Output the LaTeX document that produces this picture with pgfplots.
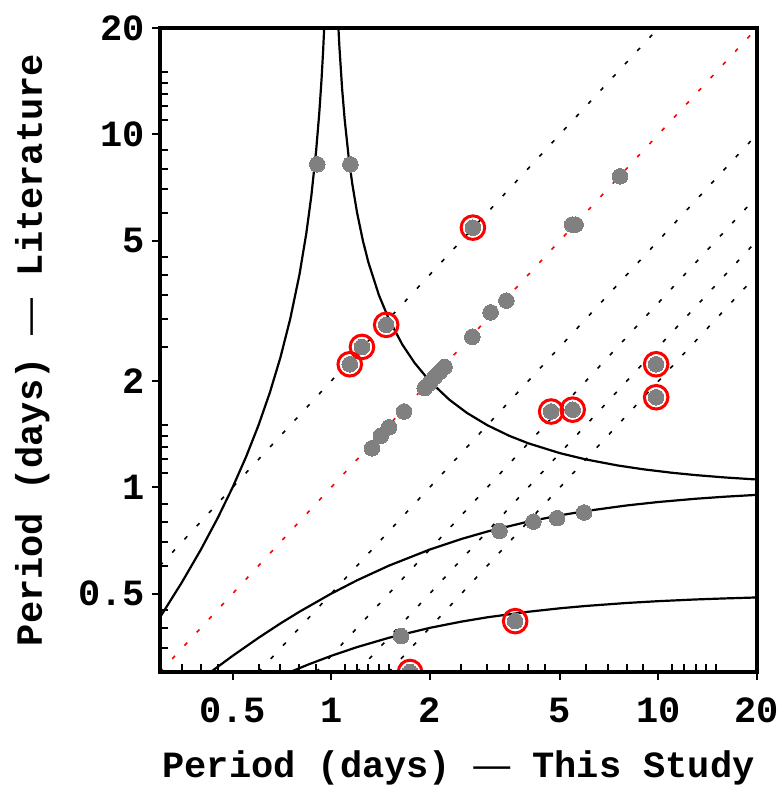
\documentclass[border=0pt]{standalone}
\usepackage{fontspec}
\setmainfont{Liberation Mono}
\newfontfamily\dashfont{Liberation Sans}
\usepackage{pgfplots}
\pgfplotsset{compat=1.18}
\definecolor{dotgray}{RGB}{128,128,128}

\begin{document}
\begin{tikzpicture}
\begin{axis}[
    scale only axis,
    width=298.5pt, height=322pt,
    xmode=log, ymode=log,
    xmin=0.3, xmax=20, ymin=0.3, ymax=20,
    xtick={0.5,1,2,5,10,20}, xticklabels={0.5,1,2,5,10,20},
    ytick={0.5,1,2,5,10,20}, yticklabels={0.5,1,2,5,10,20},
    minor xtick={0.35,0.4,0.45,0.6,0.7,0.8,0.9,1.1,1.2,1.3,1.4,1.5,2.5,3,3.5,4,4.5,6,7,8,9,11,12,13,14,15},
    minor ytick={0.35,0.4,0.45,0.6,0.7,0.8,0.9,1.1,1.2,1.3,1.4,1.5,2.5,3,3.5,4,4.5,6,7,8,9,11,12,13,14,15},
    xtick pos=bottom, ytick pos=left,
    tick align=inside,
    major tick length=-4pt, minor tick length=4pt,
    tick style={line width=1pt, black},
    axis line style={line width=1.6pt},
    axis on top,
    clip marker paths=true,
    tick label style={font=\fontsize{18.5}{22}\selectfont\bfseries},
    xticklabel style={anchor=base, yshift=-25pt},
    yticklabel style={xshift=-4pt},
    label style={font=\fontsize{18.5}{22}\selectfont\bfseries},
    xlabel={Period (days) {\dashfont\mdseries —} This Study},
    ylabel={Period (days) {\dashfont\mdseries —} Literature},
    xlabel style={at={([yshift=-52.5pt]axis description cs:0.5,0)}, anchor=base},
    ylabel style={at={([xshift=-59pt]axis description cs:0,0.5)}, anchor=base},
]
% ratio lines
\addplot[black, line width=0.8pt, dash pattern=on 2pt off 7pt] coordinates {(0.3,0.6)(10,20)};
\addplot[black, line width=0.8pt, dash pattern=on 2pt off 7pt] coordinates {(0.6,0.3)(20,10)};
\addplot[black, line width=0.8pt, dash pattern=on 2pt off 7pt] coordinates {(0.9,0.3)(20,6.6667)};
\addplot[black, line width=0.8pt, dash pattern=on 2pt off 7pt] coordinates {(1.2,0.3)(20,5)};
\addplot[black, line width=0.8pt, dash pattern=on 2pt off 7pt] coordinates {(1.5,0.3)(20,4)};
\addplot[red, line width=0.8pt, dash pattern=on 2pt off 7pt] coordinates {(0.3,0.3)(20,20)};
% alias curves
\addplot[black, line width=1.1pt] coordinates {
(0.3,0.4286)(0.35,0.5385)(0.4,0.6667)(0.45,0.8182)(0.5,1)(0.55,1.2222)(0.6,1.5)(0.65,1.8571)
(0.7,2.3333)(0.75,3)(0.8,4)(0.84,5.25)(0.87,6.6923)(0.9,9)(0.92,11.5)(0.935,14.385)(0.945,17.182)(0.9524,20.008)(0.96,24)};
\addplot[black, line width=1.1pt] coordinates {
(1.045,23.2)(1.0526,20.01)(1.06,17.667)(1.08,13.5)(1.1,11)(1.13,8.6923)(1.16,7.25)(1.2,6)(1.25,5)
(1.3,4.3333)(1.4,3.5)(1.5,3)(1.65,2.5385)(1.8,2.25)(2,2)(2.3,1.7692)(2.6,1.625)(3,1.5)(3.5,1.4)
(4,1.3333)(5,1.25)(6,1.2)(7.5,1.1538)(9,1.125)(11,1.1)(13,1.0833)(16,1.0667)(20,1.0526)};
\addplot[black, line width=1.1pt] coordinates {
(0.4286,0.3)(0.5,0.3333)(0.6,0.375)(0.7,0.4118)(0.8,0.4444)(1,0.5)(1.2,0.5455)(1.5,0.6)(2,0.6667)
(2.5,0.7143)(3,0.75)(4,0.8)(5,0.8333)(6,0.8571)(8,0.8889)(10,0.9091)(13,0.9286)(16,0.9412)(20,0.9524)};
\addplot[black, line width=1.1pt] coordinates {
(0.75,0.3)(0.85,0.3148)(1,0.3333)(1.2,0.3529)(1.5,0.375)(2,0.4)(2.5,0.4167)(3,0.4286)(4,0.4444)
(5,0.4545)(6,0.4615)(8,0.4706)(10,0.4762)(13,0.4815)(16,0.4848)(20,0.4878)};
% all stars
\addplot[dotgray, only marks, mark=*, mark size=3.9pt, mark options={fill=dotgray, draw=dotgray, line width=0pt}] coordinates {
(0.907,8.22)(1.145,8.22)(1.473,2.886)(1.242,2.499)(1.140,2.232)(2.711,5.44)(7.63,7.60)
(5.45,5.55)(5.58,5.55)(3.43,3.38)(3.07,3.13)(2.70,2.67)
(1.931,1.911)(2.0,1.975)(2.071,2.054)(2.145,2.122)(2.221,2.193)
(1.67,1.64)(1.504,1.48)(1.419,1.40)(1.332,1.29)
(1.636,0.379)(1.742,0.300)(9.84,2.232)(9.84,1.80)(4.70,1.64)(5.47,1.66)
(3.27,0.753)(4.15,0.80)(4.90,0.818)(5.93,0.849)(3.65,0.418)};
% discrepant periods
\addplot[red, only marks, mark=o, mark size=5.9pt, mark options={draw=red, line width=1.5pt}] coordinates {
(1.473,2.886)(1.242,2.499)(1.140,2.232)(2.711,5.44)(1.742,0.300)
(9.84,2.232)(9.84,1.80)(4.70,1.64)(5.47,1.66)(3.65,0.418)};
\end{axis}
\pgfresetboundingbox
\path ([shift={(-80pt,-56.5pt)}]current axis.south west) rectangle ([shift={(12pt,14pt)}]current axis.north east);
\end{tikzpicture}
\end{document}
